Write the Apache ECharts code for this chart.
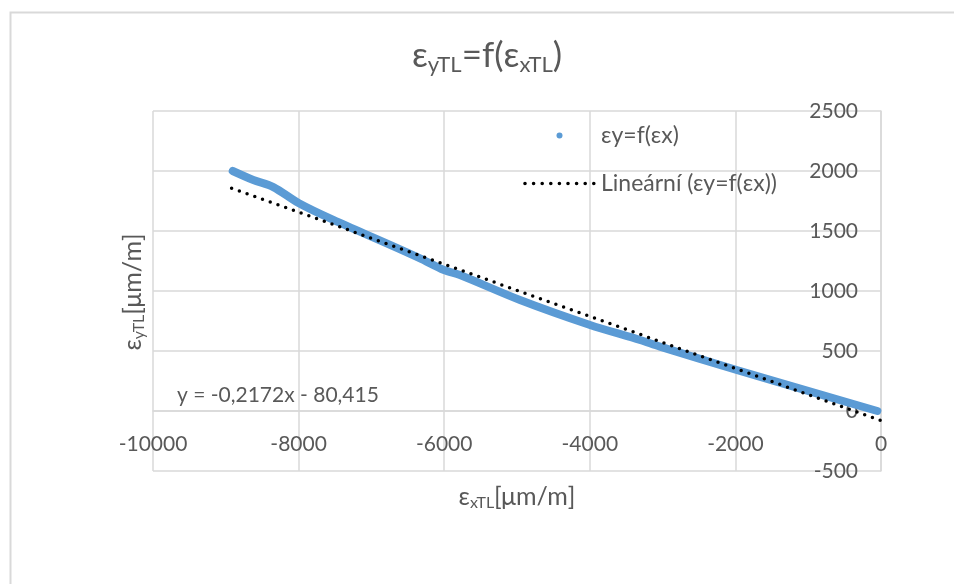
<!DOCTYPE html>
<html>
<head>
<meta charset="utf-8">
<script src="https://cdn.jsdelivr.net/npm/echarts@6/dist/echarts.min.js"></script>
<style>
  html, body { margin: 0; padding: 0; background: #fff; }
  #main { width: 954px; height: 584px; }
</style>
</head>
<body>
<div id="main"></div>
<script>
const epsX = [-8905, -8622, -8347, -7995, -7523, -6790, -6332, -6003, -5783, -4959, -3997, -3310, -3036, -1982, -50];
const epsY = [2000, 1925, 1866, 1731, 1592, 1397, 1272, 1175, 1133, 925, 717, 592, 536, 342, 0];
// linear trendline ends
const trendX = [-8920, 0];
const trendY = [1857, -80];
// axis ranges / ticks
const xTicks = [-10000, -8000, -6000, -4000, -2000, 0];
const yTicks = [-500, 0, 500, 1000, 1500, 2000, 2500];
const seriesName = 'εy=f(εx)';
const trendName = 'Lineární (εy=f(εx))';
const equation = 'y = -0,2172x - 80,415';

const textColor = '#595959';
const gridColor = '#d9d9d9';
const font = 'Lato';

var myChart = echarts.init(document.getElementById('main'));

var curveData = epsX.map((x, i) => [x, epsY[i]]);
var trendData = trendX.map((x, i) => [x, trendY[i]]);

// legend icons: small dot centred in the box, and a row of dots for the trendline
var dotIcon = 'path://M0,0 M73,20 M33.5,10 a3,3 0 1,0 6,0 a3,3 0 1,0 -6,0 Z';
var dottedIcon = 'path://M0,0 M73,20';
for (let i = 0; i < 9; i++) {
    let cx = 2 + i * 8.6;
    dottedIcon += ' M' + (cx - 1.8) + ',10 a1.8,1.8 0 1,0 3.6,0 a1.8,1.8 0 1,0 -3.6,0 Z';
}

var subRich = function (mainSize, subSize, pad, lh) {
    return {
        m: { fontFamily: font, fontSize: mainSize, fontWeight: 'normal', color: textColor, lineHeight: lh },
        s: { fontFamily: font, fontSize: subSize, fontWeight: 'normal', color: textColor, padding: [pad, 0, 0, 0] }
    };
};

var option = {
    backgroundColor: '#fff',
    animation: false,
    textStyle: { fontFamily: font, color: textColor },
    title: {
        text: '{m|ε}{s|yTL}{m|=f(ε}{s|xTL}{m|)}',
        left: 407,
        top: 30,
        textStyle: { rich: subRich(35, 22, 17, 42) }
    },
    legend: {
        orient: 'vertical',
        left: 518,
        top: 119,
        itemWidth: 73,
        itemHeight: 20,
        itemGap: 25,
        textStyle: { fontFamily: font, fontSize: 23, color: textColor, lineHeight: 20 },
        data: [
            { name: seriesName, icon: dotIcon },
            { name: trendName, icon: dottedIcon }
        ]
    },
    grid: {
        left: 153,
        right: 73,
        top: 111,
        bottom: 113
    },
    xAxis: {
        type: 'value',
        min: xTicks[0],
        max: xTicks[xTicks.length - 1],
        interval: 2000,
        offset: -60,
        axisLine: { onZero: false, lineStyle: { color: gridColor, width: 1.5 } },
        axisTick: { show: false },
        axisLabel: { fontFamily: font, fontSize: 21, color: textColor, margin: 23, formatter: v => String(v) },
        splitLine: { show: true, lineStyle: { color: gridColor, width: 1.5 } },
        name: '{m|ε}{s|xTL}{m|[μm/m]}',
        nameLocation: 'middle',
        nameGap: 72,
        nameTextStyle: { rich: subRich(25, 16, 11, 28) }
    },
    yAxis: {
        type: 'value',
        position: 'right',
        min: yTicks[0],
        max: yTicks[yTicks.length - 1],
        interval: 500,
        axisLine: { show: true, onZero: false, lineStyle: { color: gridColor, width: 1.5 } },
        axisTick: { show: false },
        axisLabel: { inside: true, fontFamily: font, fontSize: 21, color: textColor, margin: 23, formatter: v => String(v) },
        splitLine: { show: true, lineStyle: { color: gridColor, width: 1.5 } }
    },
    graphic: [
        {
            type: 'rect',
            left: 8, top: 10,
            shape: { width: 1000, height: 1000 },
            style: { fill: 'none', stroke: gridColor, lineWidth: 2 },
            z: -1
        },
        {
            type: 'text',
            x: 133, y: 292,
            rotation: Math.PI / 2,
            style: {
                text: '{m|ε}{s|yTL}{m|[μm/m]}',
                align: 'center',
                verticalAlign: 'middle',
                rich: {
                    m: { fontFamily: font, fontSize: 25, fill: textColor, lineHeight: 28 },
                    s: { fontFamily: font, fontSize: 16, fill: textColor, padding: [11, 0, 0, 0] }
                }
            }
        },
        {
            type: 'text',
            x: 177, y: 395,
            style: {
                text: equation,
                fontFamily: font, fontSize: 21, fill: textColor,
                verticalAlign: 'middle'
            },
            z: 100
        }
    ],
    series: [
        {
            name: seriesName,
            type: 'line',
            data: curveData,
            showSymbol: false,
            symbol: 'none',
            smooth: 0.3,
            color: '#5b9bd5',
            lineStyle: { color: '#5b9bd5', width: 8, cap: 'round', join: 'round' },
            z: 2
        },
        {
            name: trendName,
            type: 'line',
            data: trendData,
            showSymbol: false,
            symbol: 'none',
            color: '#000',
            lineStyle: { color: '#000', width: 3.5, type: [0, 8.2], cap: 'round' },
            z: 3
        }
    ]
};
myChart.setOption(option);
</script>
</body>
</html>
